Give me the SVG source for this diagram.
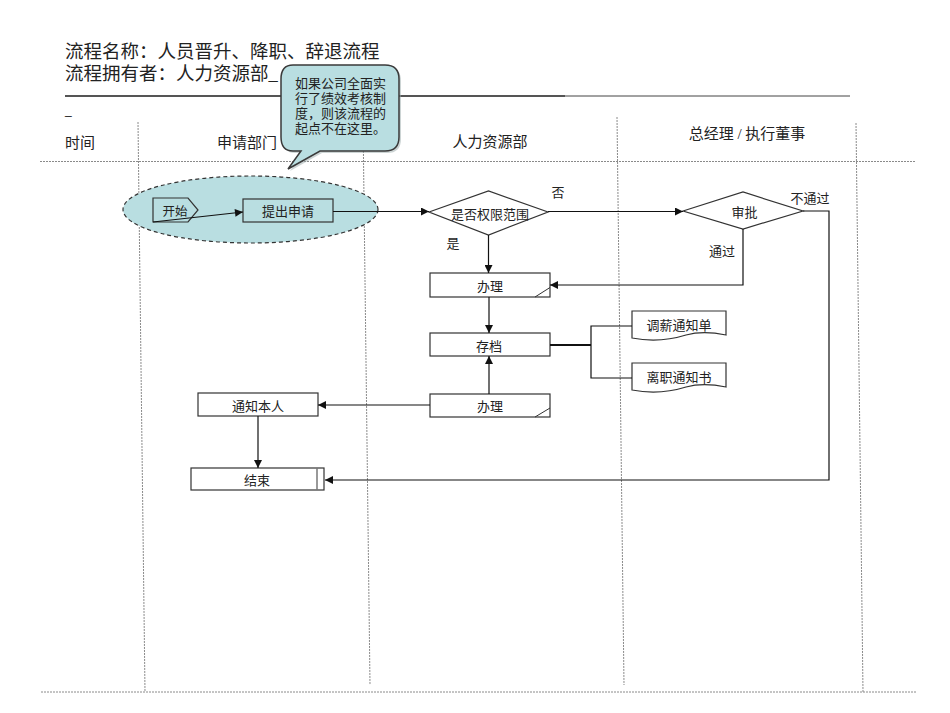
<svg xmlns="http://www.w3.org/2000/svg" width="950" height="713" viewBox="0 0 950 713">
<style>
  text { font-family: "Liberation Serif", "Noto Sans CJK SC", serif; fill: #222; }
  .t13 { font-size: 13px; }
  .c { text-anchor: middle; }
  .hdr { font-size: 15px; }
  .lane { stroke: #8a8a8a; stroke-width: 1; stroke-dasharray: 2 1; fill: none; }
  .box { fill: #fff; stroke: #333; stroke-width: 1.2; }
  .tealbox { fill: #b9dee1; stroke: #333; stroke-width: 1.2; }
  .conn { stroke: #111; stroke-width: 1.2; fill: none; }
</style>
<defs>
  <marker id="arr" viewBox="0 0 10 10" refX="10" refY="5" markerWidth="9" markerHeight="8" markerUnits="userSpaceOnUse" orient="auto">
    <path d="M0,0 L10,5 L0,10 z" fill="#111"/>
  </marker>
</defs>
<rect width="950" height="713" fill="#fff"/>

<!-- Title -->
<g id="title">
  <text x="65" y="57.5" style="font-size:18.5px">流程名称：人员晋升、降职、辞退流程</text>
  <text x="65" y="80" style="font-size:18.5px">流程拥有者：人力资源部_</text>
  <line x1="65" y1="96" x2="565" y2="96" stroke="#555" stroke-width="2"/>
  <line x1="565" y1="96" x2="850" y2="96" stroke="#444" stroke-width="1"/>
  <text x="65" y="114" style="font-size:12px;font-family:'Liberation Sans',sans-serif">_</text>
</g>

<!-- Lanes -->
<g id="lanes">
  <line class="lane" x1="138" y1="122" x2="145" y2="692"/>
  <line class="lane" x1="363" y1="118" x2="370" y2="685"/>
  <line class="lane" x1="617" y1="117" x2="624" y2="685"/>
  <line class="lane" x1="856" y1="123" x2="863" y2="692"/>
  <line class="lane" x1="40" y1="161.5" x2="916" y2="161.5"/>
  <line class="lane" x1="41" y1="692" x2="916" y2="692"/>
  <text class="hdr" x="65" y="148">时间</text>
  <text class="hdr c" x="247" y="148">申请部门</text>
  <text class="hdr c" x="490" y="147">人力资源部</text>
  <text class="hdr c" x="747" y="139">总经理 / 执行董事</text>
</g>

<!-- Start group ellipse -->
<g id="start-group">
  <ellipse cx="250.5" cy="209.5" rx="127.5" ry="33.5" fill="#b9dee1" stroke="#333" stroke-width="1.2" stroke-dasharray="4 3"/>
</g>

<g id="node-start">
  <path class="tealbox" d="M153,198 H188 L198,210 L188,222 H153 Z"/>
  <text class="c" x="175" y="216" style="font-size:12.5px">开始</text>
</g>

<g id="node-apply">
  <rect class="tealbox" x="243" y="199" width="90" height="23"/>
  <text class="t13 c" x="288" y="216">提出申请</text>
</g>

<g id="node-scope">
  <path class="box" d="M429,212 L488.5,191 L548,212 L488.5,235 Z"/>
  <text class="t13 c" x="490" y="218.5">是否权限范围</text>
</g>

<g id="node-approve">
  <path class="box" d="M683,211 L743,192 L803,211 L743,229 Z"/>
  <text class="t13 c" x="744.5" y="217">审批</text>
</g>

<g id="node-handle1">
  <rect class="box" x="430" y="273" width="120" height="24"/>
  <line x1="535" y1="297" x2="550" y2="287.5" stroke="#333" stroke-width="1"/>
  <text class="t13 c" x="490" y="291">办理</text>
</g>

<g id="node-archive">
  <rect class="box" x="430" y="333" width="120" height="23"/>
  <text class="t13 c" x="489" y="350.5">存档</text>
</g>

<g id="node-doc-salary">
  <path class="box" d="M632,311 H726 V335 C712,332 700,331 686,335 C670,340 652,342 632,338 Z"/>
  <text class="t13 c" x="679" y="330">调薪通知单</text>
</g>

<g id="node-doc-leave">
  <path class="box" d="M632,363 H726 V387 C712,384 700,383 686,387 C670,392 652,394 632,390 Z"/>
  <text class="t13 c" x="679" y="382">离职通知书</text>
</g>

<g id="node-handle2">
  <rect class="box" x="430" y="394" width="120" height="23"/>
  <line x1="535" y1="417" x2="550" y2="408" stroke="#333" stroke-width="1"/>
  <text class="t13 c" x="490" y="411">办理</text>
</g>

<g id="node-notify">
  <rect class="box" x="198" y="393" width="120" height="23"/>
  <text class="t13 c" x="258" y="411">通知本人</text>
</g>

<g id="node-end">
  <rect class="box" x="191" y="468" width="133" height="22"/>
  <line x1="317" y1="468" x2="317" y2="490" stroke="#777" stroke-width="1.5"/>
  <text class="t13 c" x="257" y="485">结束</text>
</g>

<!-- Connectors -->
<g id="connectors">
  <path class="conn" d="M153,222 L243,212" marker-end="url(#arr)"/>
  <path class="conn" d="M333,211.5 H429" marker-end="url(#arr)"/>
  <path class="conn" d="M548,211.5 H683" marker-end="url(#arr)"/>
  <path class="conn" d="M803,211 H829 V480 H325" marker-end="url(#arr)"/>
  <path class="conn" d="M743,229 V285 H550" marker-end="url(#arr)"/>
  <path class="conn" d="M488.5,235 V273" marker-end="url(#arr)"/>
  <path class="conn" d="M489,297 V333" marker-end="url(#arr)"/>
  <path d="M550,345 H591" stroke="#111" stroke-width="2" fill="none"/>
  <path class="conn" d="M632,326 H591 V378 H632"/>
  <path class="conn" d="M489,394 V356" marker-end="url(#arr)"/>
  <path class="conn" d="M430,405 H318" marker-end="url(#arr)"/>
  <path class="conn" d="M258,416 V468" marker-end="url(#arr)"/>
  <text class="t13 c" x="558" y="197">否</text>
  <text class="t13 c" x="453" y="248">是</text>
  <text class="t13 c" x="722" y="256">通过</text>
  <text class="t13 c" x="810" y="203">不通过</text>
</g>

<!-- Callout -->
<g id="callout">
  <path d="M295,67 H387 Q401,67 401,81 V139 Q401,153 387,153 H322 L290,171 L303,153 H295 Q283,153 283,139 V81 Q283,67 295,67 Z" fill="#9aa" opacity="0.5"/>
  <path d="M293,65 H385 Q399,65 399,79 V137 Q399,151 385,151 H320 L288,169 L301,151 H293 Q281,151 281,137 V79 Q281,65 293,65 Z" fill="#b9dee1" stroke="#3a3a3a" stroke-width="1.5"/>
  <text class="t13" x="295" y="88">如果公司全面实</text>
  <text class="t13" x="295" y="103">行了绩效考核制</text>
  <text class="t13" x="295" y="118">度，则该流程的</text>
  <text class="t13" x="295" y="133">起点不在这里。</text>
</g>
</svg>
